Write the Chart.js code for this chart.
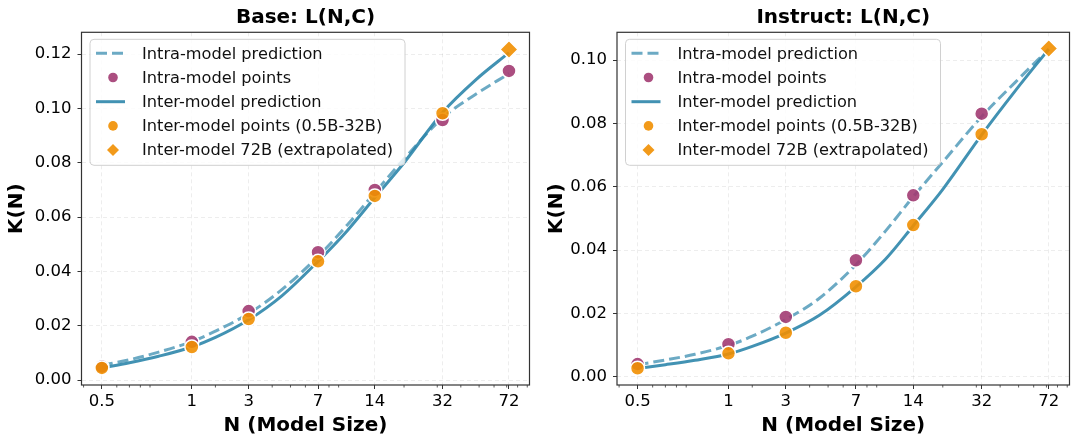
<!DOCTYPE html>
<html>
<head>
<meta charset="utf-8">
<script src="https://cdn.jsdelivr.net/npm/chart.js@4.4.1/dist/chart.umd.min.js"></script>
<style>
  html, body { margin: 0; padding: 0; background: #fff; }
  .row { display: flex; width: 1080px; height: 444px; }
  .cell { width: 540px; height: 444px; }
</style>
</head>
<body>
<div class="row">
  <div class="cell"><canvas id="chartBase" width="540" height="444"></canvas></div>
  <div class="cell"><canvas id="chartInstruct" width="540" height="444"></canvas></div>
</div>
<script>
// model sizes (B); "1.5" is printed as "1" on the axis
const modelSizes = [0.5, 1.5, 3, 7, 14, 32];
const extrapSize = [72];
const xTickValues = [0.5, 1.5, 3, 7, 14, 32, 72];
const xTickLabels = ['0.5', '1', '3', '7', '14', '32', '72'];
const xMinorTicks = [0.4, 0.6, 0.7, 0.8, 0.9, 2, 4, 5, 6, 8, 9, 20, 30, 40, 50, 60, 70, 80, 90];

// sample positions of the prediction curves
const curveSizes = [0.5, 0.7, 1, 1.5, 2, 3, 4.5, 7, 10, 14, 20, 32, 48, 72];

// Base
const baseIntraPred = [0.0055, 0.0075, 0.0103, 0.0142, 0.0180, 0.0245, 0.0333, 0.0455, 0.0571, 0.0690, 0.0814, 0.0965, 0.1052, 0.1128];
const baseInterPred = [0.0045, 0.0064, 0.0088, 0.0122, 0.0157, 0.0222, 0.0310, 0.0437, 0.0550, 0.0672, 0.0800, 0.0985, 0.1105, 0.1205];
const baseIntraPoints = [0.0050, 0.0141, 0.0254, 0.0471, 0.0700, 0.0957, 0.1138];
const baseInterPoints = [0.0045, 0.0122, 0.0225, 0.0437, 0.0678, 0.0982];
const baseInter72 = [0.1217];
const baseYTicks = [0, 0.02, 0.04, 0.06, 0.08, 0.10, 0.12];

// Instruct
const instIntraPred = [0.0038, 0.0053, 0.0071, 0.0099, 0.0128, 0.0181, 0.0248, 0.0354, 0.0460, 0.0569, 0.0678, 0.0822, 0.0930, 0.1035];
const instInterPred = [0.0026, 0.0038, 0.0052, 0.0072, 0.0096, 0.0138, 0.0194, 0.0284, 0.0371, 0.0477, 0.0592, 0.0764, 0.0903, 0.1035];
const instIntraPoints = [0.0040, 0.0103, 0.0189, 0.0368, 0.0573, 0.0831];
const instInterPoints = [0.0027, 0.0074, 0.0139, 0.0286, 0.0479, 0.0766];
const instInter72 = [0.1037];
const instYTicks = [0, 0.02, 0.04, 0.06, 0.08, 0.10];

const FONT = "'DejaVu Sans', sans-serif";

const pairs = (xs, ys) => ys.map((y, i) => ({ x: xs[i], y: y }));

// matplotlib-like box, minor ticks and in-axes legend
const framePlugin = {
    id: 'frame',
    afterDatasetsDraw(chart) {
        const { ctx, chartArea: a } = chart;
        const xs = chart.scales.x;
        ctx.save();
        // minor ticks
        ctx.strokeStyle = '#333';
        ctx.lineWidth = 0.8;
        xMinorTicks.forEach(v => {
            const px = xs.getPixelForValue(v);
            if (px < a.left || px > a.right) return;
            ctx.beginPath();
            ctx.moveTo(px, a.bottom);
            ctx.lineTo(px, a.bottom + 2.5);
            ctx.stroke();
        });
        // box
        ctx.strokeStyle = '#333';
        ctx.lineWidth = 1.2;
        ctx.strokeRect(a.left, a.top, a.right - a.left, a.bottom - a.top);

        // legend
        const items = chart.data.datasets;
        const lx = a.left + 8.5, ly = a.top + 7, lw = 315, lh = 126, rowH = 24.2;
        ctx.beginPath();
        ctx.roundRect(lx, ly, lw, lh, 4);
        ctx.fillStyle = 'rgba(255,255,255,0.8)';
        ctx.fill();
        ctx.strokeStyle = '#d0d0d0';
        ctx.lineWidth = 1;
        ctx.stroke();
        ctx.font = '16.2px ' + FONT;
        ctx.textBaseline = 'middle';
        ctx.textAlign = 'left';
        items.forEach((ds, i) => {
            const cy = ly + 14 + i * rowH;
            const hx0 = lx + 6, hx1 = lx + 35, hc = lx + 23;
            if (ds.showLine) {
                ctx.strokeStyle = ds.borderColor;
                ctx.lineWidth = ds.borderWidth;
                ctx.setLineDash(ds.borderDash || []);
                ctx.beginPath();
                ctx.moveTo(hx0, cy);
                ctx.lineTo(hx1, cy);
                ctx.stroke();
                ctx.setLineDash([]);
            } else {
                ctx.fillStyle = ds.backgroundColor;
                ctx.beginPath();
                if (ds.pointStyle === 'rectRot') {
                    const r = 6;
                    ctx.moveTo(hc, cy - r);
                    ctx.lineTo(hc + r, cy);
                    ctx.lineTo(hc, cy + r);
                    ctx.lineTo(hc - r, cy);
                    ctx.closePath();
                } else {
                    ctx.arc(hc, cy, 4.8, 0, Math.PI * 2);
                }
                ctx.fill();
            }
            ctx.fillStyle = '#111';
            ctx.fillText(ds.label, lx + 52, cy + 1);
        });
        ctx.restore();
    }
};

function makeChart(canvasId, title, intraPred, interPred, intraPts, interPts, inter72, yTicks, yMin, yMax, leftW, rightPad) {
    const datasets = [
        {
            label: 'Intra-model prediction',
            data: pairs(curveSizes, intraPred),
            showLine: true,
            borderColor: 'rgba(46,134,171,0.7)',
            borderWidth: 3,
            borderDash: [11, 5],
            pointRadius: 0,
            cubicInterpolationMode: 'monotone',
            order: 4
        },
        {
            label: 'Intra-model points',
            data: pairs(xTickValues, intraPts),
            backgroundColor: 'rgba(162,59,114,0.9)',
            borderColor: '#fff',
            borderWidth: 1.5,
            pointStyle: 'circle',
            pointRadius: 7,
            order: 2
        },
        {
            label: 'Inter-model prediction',
            data: pairs(curveSizes, interPred),
            showLine: true,
            borderColor: 'rgba(46,134,171,0.9)',
            borderWidth: 3,
            pointRadius: 0,
            cubicInterpolationMode: 'monotone',
            order: 3
        },
        {
            label: 'Inter-model points (0.5B-32B)',
            data: pairs(modelSizes, interPts),
            backgroundColor: 'rgba(241,143,1,0.9)',
            borderColor: '#fff',
            borderWidth: 1.5,
            pointStyle: 'circle',
            pointRadius: 7,
            order: 1
        },
        {
            label: 'Inter-model 72B (extrapolated)',
            data: pairs(extrapSize, inter72),
            backgroundColor: 'rgba(241,143,1,0.9)',
            borderColor: '#fff',
            borderWidth: 1.5,
            pointStyle: 'rectRot',
            pointRadius: 9,
            order: 0
        }
    ];

    return new Chart(document.getElementById(canvasId), {
        type: 'scatter',
        data: { datasets: datasets },
        options: {
            responsive: false,
            animation: false,
            layout: { padding: { left: 0, right: rightPad, top: 0, bottom: 0 } },
            plugins: {
                legend: { display: false },
                tooltip: { enabled: false },
                title: {
                    display: true,
                    text: title,
                    fullSize: false,
                    color: '#000',
                    font: { family: FONT, size: 20, weight: 'bold', lineHeight: 1.2 },
                    padding: { top: 5.5, bottom: 2.8 }
                }
            },
            scales: {
                x: {
                    type: 'logarithmic',
                    min: 0.39,
                    max: 92.5,
                    afterBuildTicks: (scale) => {
                        scale.ticks = xTickValues.map(v => ({ value: v }));
                    },
                    afterFit: (scale) => { scale.height = 59; },
                    ticks: {
                        autoSkip: false,
                        maxRotation: 0,
                        padding: 3,
                        color: '#000',
                        font: { family: FONT, size: 16.5 },
                        callback: (val, i) => xTickLabels[i]
                    },
                    grid: {
                        color: 'rgba(0,0,0,0.09)',
                        lineWidth: 0.8,
                        tickColor: '#333',
                        tickLength: 4,
                        tickWidth: 1
                    },
                    border: { display: false, dash: [4, 3] },
                    title: {
                        display: true,
                        text: 'N (Model Size)',
                        color: '#000',
                        font: { family: FONT, size: 20, weight: 'bold', lineHeight: 1.2 },
                        padding: { top: 0, bottom: 6.5 }
                    }
                },
                y: {
                    type: 'linear',
                    min: yMin,
                    max: yMax,
                    afterBuildTicks: (scale) => {
                        scale.ticks = yTicks.map(v => ({ value: v }));
                    },
                    afterFit: (scale) => { scale.width = leftW; },
                    ticks: {
                        padding: 6,
                        color: '#000',
                        font: { family: FONT, size: 16.5 },
                        callback: (val) => Number(val).toFixed(2)
                    },
                    grid: {
                        color: 'rgba(0,0,0,0.09)',
                        lineWidth: 0.8,
                        tickColor: '#333',
                        tickLength: 4,
                        tickWidth: 1
                    },
                    border: { display: false, dash: [4, 3] },
                    title: {
                        display: true,
                        text: 'K(N)',
                        color: '#000',
                        font: { family: FONT, size: 20, weight: 'bold', lineHeight: 1.2 },
                        padding: { top: 5, bottom: 0 }
                    }
                }
            }
        },
        plugins: [framePlugin]
    });
}

makeChart('chartBase', 'Base: L(N,C)', baseIntraPred, baseInterPred,
    baseIntraPoints, baseInterPoints, baseInter72, baseYTicks, -0.0018, 0.1280, 81.5, 7);
makeChart('chartInstruct', 'Instruct: L(N,C)', instIntraPred, instInterPred,
    instIntraPoints, instInterPoints, instInter72, instYTicks, -0.0026, 0.1088, 77, 9);
</script>
</body>
</html>
